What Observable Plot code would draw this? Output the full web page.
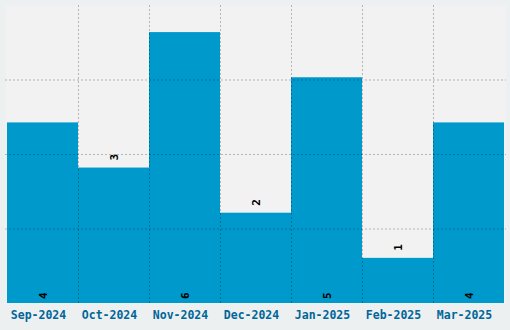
<!DOCTYPE html>
<html>
<head>
<meta charset="utf-8">
<script src="https://cdn.jsdelivr.net/npm/d3@7"></script>
<script src="https://cdn.jsdelivr.net/npm/@observablehq/plot@0.6"></script>
<style>
  html, body { margin: 0; padding: 0; background: #edf0f1; }
  #chart svg { display: block; }
</style>
</head>
<body>
<div id="chart"></div>
<script>
const months = ["Sep-2024", "Oct-2024", "Nov-2024", "Dec-2024", "Jan-2025", "Feb-2025", "Mar-2025"];
const counts = [4, 3, 6, 2, 5, 1, 4];
const yMax = 6.6;
const yGridTicks = [1.65, 3.3, 4.95];

const data = months.map((m, i) => ({month: m, count: counts[i]}));
const inside = data.filter(d => d.count >= 4);
const outside = data.filter(d => d.count < 4);

const gridStyle = {stroke: "#000", strokeOpacity: 0.25, strokeDasharray: "2,2", strokeWidth: 1};

// vertical dashed lines at band boundaries, positioned via the x scale
function bandBoundaries(index, scales, values, dimensions) {
  const g = d3.create("svg:g");
  months.slice(1).forEach(m => {
    const x = Math.round(scales.x(m)) + 0.5;
    g.append("line")
      .attr("x1", x).attr("x2", x)
      .attr("y1", dimensions.marginTop)
      .attr("y2", dimensions.height - dimensions.marginBottom)
      .attr("stroke", gridStyle.stroke)
      .attr("stroke-opacity", gridStyle.strokeOpacity)
      .attr("stroke-dasharray", gridStyle.strokeDasharray);
  });
  return g.node();
}

const chart = Plot.plot({
  width: 510,
  height: 330,
  marginLeft: 5,
  marginRight: 4,
  marginTop: 5,
  marginBottom: 27,
  style: {background: "#edf0f1", fontFamily: "DejaVu Sans Mono", overflow: "visible"},
  x: {domain: months, padding: 0, label: null},
  y: {domain: [0, yMax], label: null, axis: null},
  marks: [
    Plot.frame({fill: "#f2f2f2", stroke: null}),
    Plot.barY(data, {x: "month", y: "count", fill: "#0099cc"}),
    Plot.ruleY(yGridTicks, gridStyle),
    bandBoundaries,
    Plot.text(inside, {x: "month", y: 0, text: d => String(d.count), rotate: -90, textAnchor: "start", dy: -4.5, fill: "#000", fontSize: 11, fontWeight: "bold"}),
    Plot.text(outside, {x: "month", y: "count", text: d => String(d.count), rotate: -90, textAnchor: "start", dy: -7.5, fill: "#000", fontSize: 11, fontWeight: "bold"}),
    Plot.axisX({tickSize: 0, tickPadding: 7, dx: -4.5, fontSize: 11.5, fontWeight: "bold", fill: "#006699", label: null}),
  ]
});
document.getElementById("chart").appendChild(chart);
</script>
</body>
</html>
